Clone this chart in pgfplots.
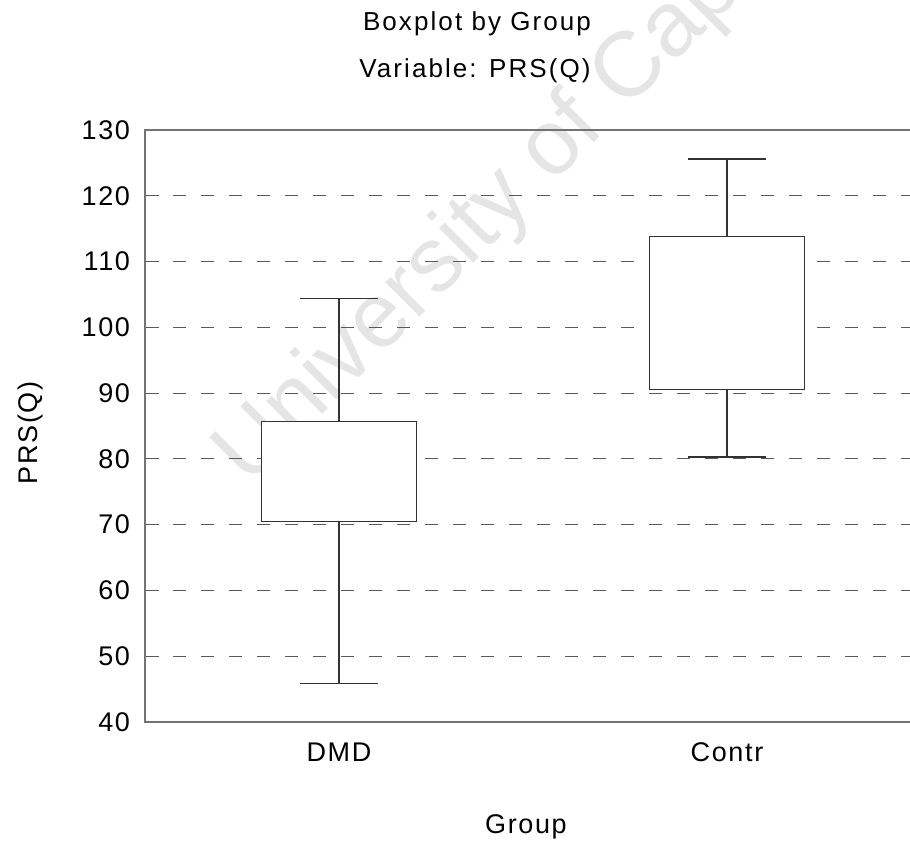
\documentclass[border=0pt]{standalone}
\usepackage{pgfplots}
\pgfplotsset{compat=1.18}
\usepackage{fontspec}
\setmainfont{Liberation Sans}
\newfontfamily\widefont[LetterSpace=8]{Liberation Sans}
\newfontfamily\labelfont[LetterSpace=6]{Liberation Sans}

\begin{document}
\begin{tikzpicture}
% faint watermark behind the plot
\node[rotate=45, anchor=base west, text=black!10, inner sep=0pt,
      font=\fontsize{46}{50}\selectfont] at (52pt,117pt) {University of Cape Town};

\begin{axis}[
  at={(0pt,0pt)}, anchor=south west,
  scale only axis, width=388pt, height=296pt,
  xmin=0.5, xmax=2.5, ymin=40, ymax=130,
  xtick={1,2}, xticklabels={DMD,Contr},
  ytick={40,50,...,130},
  axis line style={black!55, line width=0.6pt},
  ymajorgrids,
  grid style={black!65, dash pattern=on 6.5pt off 7.5pt, line width=0.5pt},
  major x tick style={draw=none},
  ytick style={black!65, line width=0.5pt},
  major tick length=7pt,
  tick align=inside,
  /pgf/number format/assume math mode=true,
  ticklabel style={font=\labelfont\fontsize{13.5}{15}\selectfont},
  yticklabel style={xshift=-4pt},
  xticklabel style={yshift=-7pt},
  unbounded coords=jump,
]
\pgfplotsset{boxline/.style={draw=black!80, line width=0.6pt, mark=none, solid}}
% DMD: whiskers 45.8 / 104.4, quartiles 70.5 / 85.7
\addplot[boxline] coordinates {(1,45.8) (1,104.4)};
\addplot[boxline] coordinates {(0.9,45.8) (1.1,45.8) (nan,nan) (0.9,104.4) (1.1,104.4)};
\addplot[boxline, fill=white] coordinates {(0.8,70.5) (1.2,70.5) (1.2,85.7) (0.8,85.7) (0.8,70.5)} -- cycle;
% Contr: whiskers 80.3 / 125.6, quartiles 90.6 / 113.8
\addplot[boxline] coordinates {(2,80.3) (2,125.6)};
\addplot[boxline] coordinates {(1.9,80.3) (2.1,80.3) (nan,nan) (1.9,125.6) (2.1,125.6)};
\addplot[boxline, fill=white] coordinates {(1.8,90.6) (2.2,90.6) (2.2,113.8) (1.8,113.8) (1.8,90.6)} -- cycle;
\end{axis}

% titles and axis labels
\node[anchor=base, font=\widefont\fontsize{13}{15}\selectfont] at (166pt,345.5pt) {Boxplot by Group};
\node[anchor=base, font=\widefont\fontsize{13}{15}\selectfont] at (165pt,322.5pt) {Variable: PRS(Q)};
\node[rotate=90, font=\labelfont\fontsize{13.5}{15}\selectfont] at (-57pt,144.5pt) {PRS(Q)};
\node[anchor=base, font=\labelfont\fontsize{13.5}{15}\selectfont] at (190.5pt,-55.5pt) {Group};

\pgfresetboundingbox
\useasboundingbox (-72.5pt,-60.5pt) rectangle (382.5pt,361pt);
\end{tikzpicture}
\end{document}
